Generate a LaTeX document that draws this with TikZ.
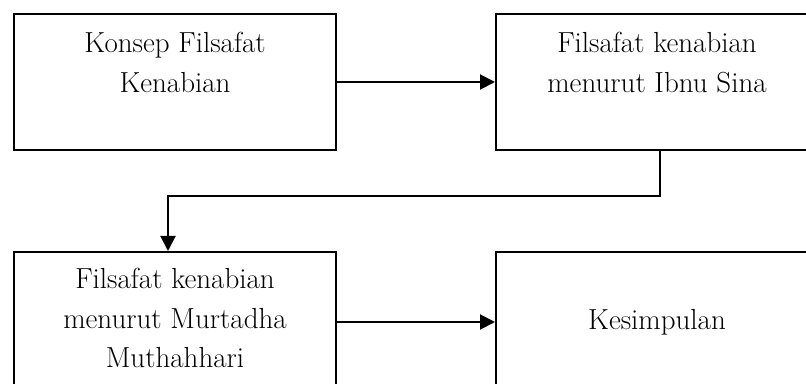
\documentclass[tikz,border=0pt]{standalone}
\usetikzlibrary{arrows.meta}
\tikzset{
  box/.style={draw, line width=2pt, minimum width=322pt, inner sep=0pt},
  txt/.style={align=center, inner sep=0pt, anchor=north, font=\fontsize{29}{39.5}\selectfont},
  conn/.style={line width=2pt, -{Triangle[length=15pt,width=15pt]}}
}
\begin{document}
\begin{tikzpicture}[x=1pt,y=1pt]
\useasboundingbox (0,0) rectangle (806,383);
\clip (0,0) rectangle (806,383);
\node[box, minimum height=136pt] (A) at (175,301) {};
\node[box, minimum height=136pt] (B) at (657,301) {};
\node[box, minimum height=140pt] (C) at (175,61) {};
\node[box, minimum height=140pt, font=\fontsize{29}{39.5}\selectfont] (D) at (657,61) {Kesimpulan};
\node[txt] (At) at ([yshift=-19pt]A.north) {Konsep Filsafat\\Kenabian};
\node[txt] (Bt) at ([yshift=-19pt]B.north) {Filsafat kenabian\\menurut Ibnu Sina};
\node[txt] (Ct) at ([yshift=-17pt]C.north) {Filsafat kenabian\\menurut Murtadha\\Muthahhari};
\coordinate (k) at (168,187);
\draw[conn] (A.east) -- (B.west);
\draw[conn] (C.east) -- (D.west);
\draw[conn] ([xshift=3pt]B.south) |- (k) -- (k |- C.north);
\end{tikzpicture}
\end{document}
